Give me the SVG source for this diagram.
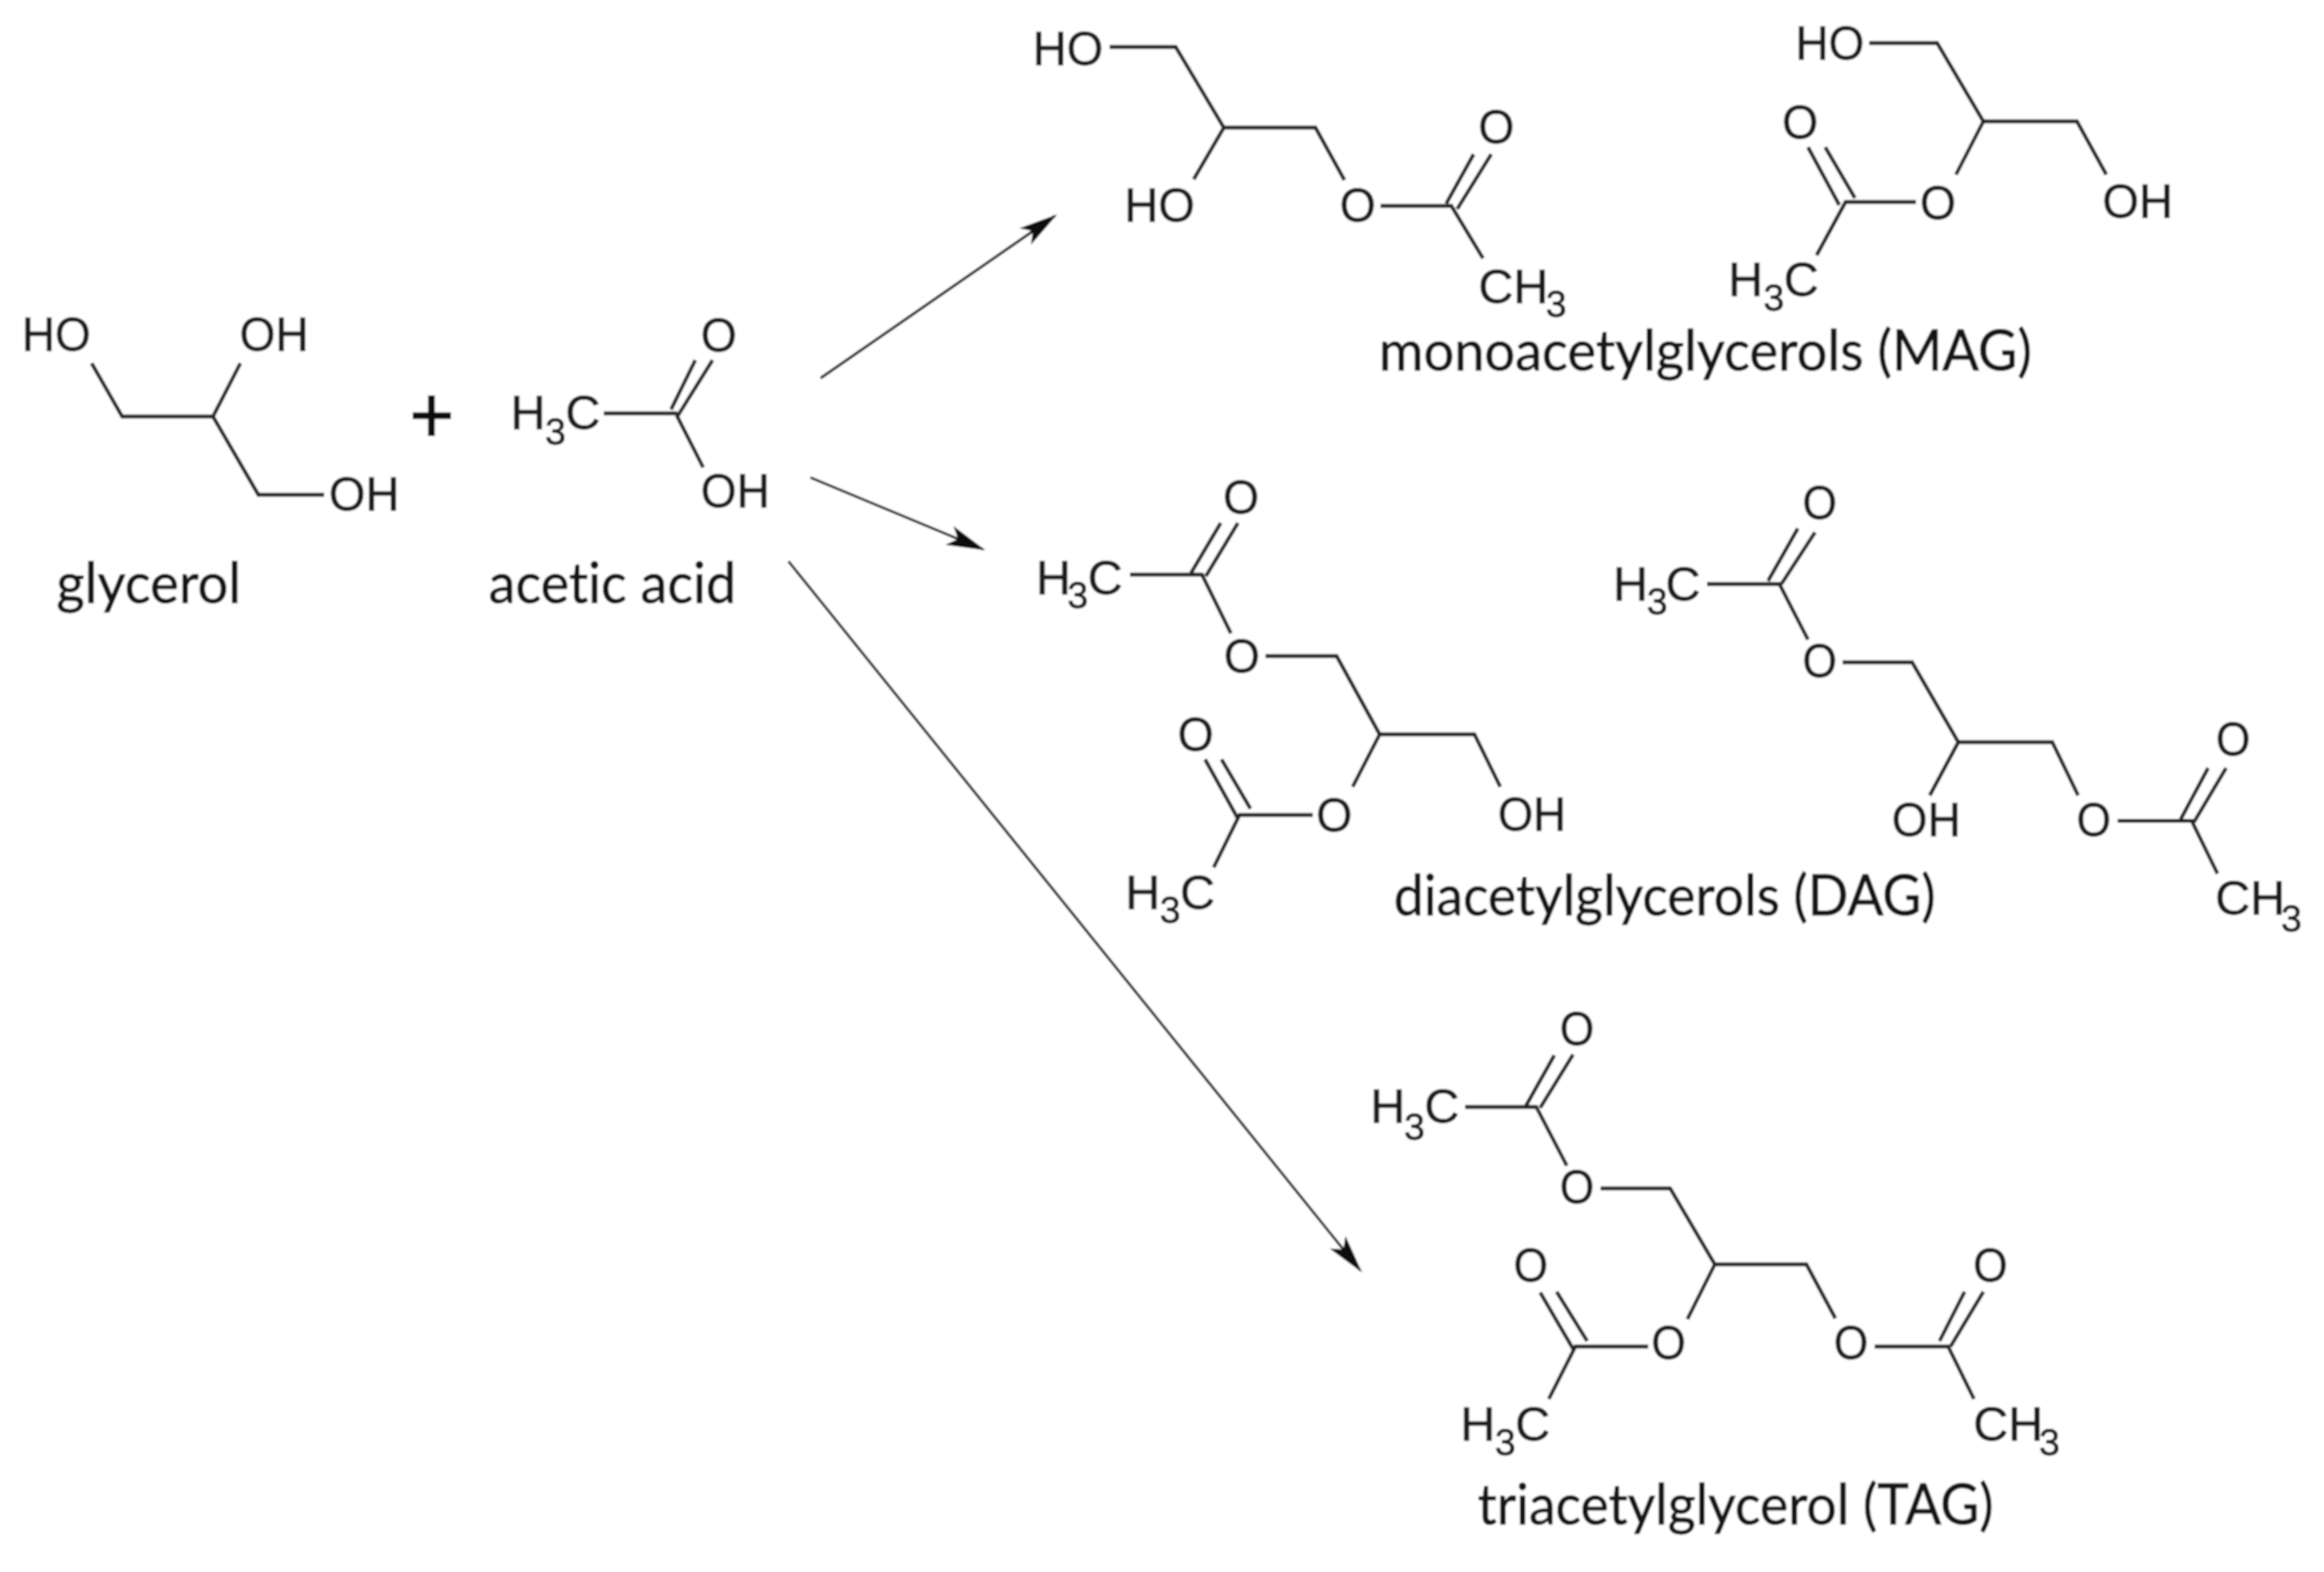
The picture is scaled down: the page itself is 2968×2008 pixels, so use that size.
<svg xmlns="http://www.w3.org/2000/svg" width="2968" height="2008" viewBox="0 0 2968 2008">
<style>
.b{fill:none;stroke:#222;stroke-width:4.8;stroke-linecap:butt;stroke-linejoin:miter}
.a{font-family:"Liberation Sans",Arial,sans-serif;font-size:62px;fill:#1c1c1c;stroke:#1c1c1c;stroke-width:.9}
.s{font-size:48px}
.n{font-family:Lato,"Open Sans",sans-serif;font-size:72px;fill:#161616;stroke:#161616;stroke-width:.9;font-variant-ligatures:none}
.r{fill:none;stroke:#111;stroke-width:3.4}
.p{fill:none;stroke:#0c0c0c;stroke-width:8.5}
</style>
<defs>
<marker id="head" markerUnits="userSpaceOnUse" markerWidth="50" markerHeight="26" viewBox="0 0 50 26" refX="46" refY="13" orient="auto">
<path d="M0,0 L50,13 L0,26 L12,13 Z" fill="#0c0c0c"/>
</marker>
<filter id="soft" x="0" y="0" width="100%" height="100%" filterUnits="objectBoundingBox"><feGaussianBlur stdDeviation="0.8"/></filter>
</defs>
<rect width="2968" height="2008" fill="#fff"/>
<g filter="url(#soft)">
<rect width="2968" height="2008" fill="#fff"/>
<g id="glycerol">
<path class="b" d="M117,464 L156,532 L272,532 L307,464 M272,532 L330,632 L414,632"/>
<text class="a" x="28" y="448" textLength="88" lengthAdjust="spacingAndGlyphs">HO</text>
<text class="a" x="306" y="448" textLength="88" lengthAdjust="spacingAndGlyphs">OH</text>
<text class="a" x="420" y="652" textLength="90" lengthAdjust="spacingAndGlyphs">OH</text>
<text class="n" x="72" y="770" textLength="236" lengthAdjust="spacingAndGlyphs">glycerol</text>
</g>
<g id="plus">
<path class="p" d="M527,531 H576 M551,505 V557"/>
</g>
<g id="acetic-acid">
<path class="b" d="M771,528 L865,528 M888,460 L857,523 M910,460 L865,532 L898,597"/>
<text class="a" x="895" y="449" textLength="46" lengthAdjust="spacingAndGlyphs">O</text>
<text class="a" x="652" y="548">H<tspan class="s" x="696" y="568">3</tspan><tspan x="722" y="548">C</tspan></text>
<text class="a" x="895" y="648" textLength="88" lengthAdjust="spacingAndGlyphs">OH</text>
<text class="n" x="624" y="770" textLength="316" lengthAdjust="spacingAndGlyphs">acetic acid</text>
</g>
<g id="mag-1">
<path class="b" d="M1417,60 L1501.5,60 L1563,163 L1680,163 L1717,230 M1563,163 L1524.5,229 M1763,263 L1853.5,263 L1894,330 M1882,197 L1847,260 M1904.5,197 L1861,267"/>
<text class="a" x="1319" y="83" textLength="90" lengthAdjust="spacingAndGlyphs">HO</text>
<text class="a" x="1436" y="283" textLength="90" lengthAdjust="spacingAndGlyphs">HO</text>
<text class="a" x="1711" y="283" textLength="46" lengthAdjust="spacingAndGlyphs">O</text>
<text class="a" x="1888" y="183" textLength="46" lengthAdjust="spacingAndGlyphs">O</text>
<text class="a" x="1888" y="387">CH<tspan class="s" x="1974" y="405">3</tspan></text>
</g>
<g id="mag-2">
<path class="b" d="M2387,55 L2474,55 L2533,155 L2652.5,155 L2690,223 M2533,155 L2498,223 M2447,258 L2357,258 L2320,326 M2309,188 L2349,262 M2331,188 L2369,253"/>
<text class="a" x="2293" y="76" textLength="88" lengthAdjust="spacingAndGlyphs">HO</text>
<text class="a" x="2685" y="278" textLength="90" lengthAdjust="spacingAndGlyphs">OH</text>
<text class="a" x="2452" y="280" textLength="46" lengthAdjust="spacingAndGlyphs">O</text>
<text class="a" x="2276" y="177" textLength="46" lengthAdjust="spacingAndGlyphs">O</text>
<text class="a" x="2207" y="378">H<tspan class="s" x="2252" y="397">3</tspan><tspan x="2278" y="378">C</tspan></text>
</g>
<text id="mag-label" class="n" x="1761" y="473" textLength="834" lengthAdjust="spacingAndGlyphs">monoacetylglycerols (MAG)</text>
<g id="dag-1">
<path class="b" d="M1559,668 L1521,732 M1581,668 L1540,736 M1443,734 L1535,734 L1572,809 M1616,838 L1707,838 L1762,938 L1883,938 L1916,1005 M1762,938 L1727.5,1005 M1676.5,1041 L1583,1041 L1550,1108 M1539,970 L1580,1044 M1560,970 L1597,1033"/>
<text class="a" x="1562" y="656" textLength="46" lengthAdjust="spacingAndGlyphs">O</text>
<text class="a" x="1323" y="759">H<tspan class="s" x="1363" y="777">3</tspan><tspan x="1389" y="759">C</tspan></text>
<text class="a" x="1563" y="859" textLength="46" lengthAdjust="spacingAndGlyphs">O</text>
<text class="a" x="1504" y="959" textLength="46" lengthAdjust="spacingAndGlyphs">O</text>
<text class="a" x="1681" y="1062" textLength="46" lengthAdjust="spacingAndGlyphs">O</text>
<text class="a" x="1913" y="1061" textLength="87" lengthAdjust="spacingAndGlyphs">OH</text>
<text class="a" x="1437" y="1161">H<tspan class="s" x="1481" y="1179">3</tspan><tspan x="1507" y="1161">C</tspan></text>
</g>
<g id="dag-2">
<path class="b" d="M2296,675 L2258,742 M2318,680 L2275,746 M2180,746 L2272.5,746 L2309,817 M2353,846 L2442,846 L2501,948 L2621,948 L2654,1016 M2501,948 L2464.5,1016 M2704.5,1048.5 L2799,1048.5 L2832,1116 M2820,981 L2785,1046.5 M2843,981 L2802,1050"/>
<text class="a" x="2302" y="663" textLength="44" lengthAdjust="spacingAndGlyphs">O</text>
<text class="a" x="2060" y="767">H<tspan class="s" x="2103" y="785">3</tspan><tspan x="2127" y="767">C</tspan></text>
<text class="a" x="2302" y="865" textLength="44" lengthAdjust="spacingAndGlyphs">O</text>
<text class="a" x="2416" y="1068" textLength="88" lengthAdjust="spacingAndGlyphs">OH</text>
<text class="a" x="2652" y="1068" textLength="44" lengthAdjust="spacingAndGlyphs">O</text>
<text class="a" x="2830" y="965" textLength="44" lengthAdjust="spacingAndGlyphs">O</text>
<text class="a" x="2829" y="1168">CH<tspan class="s" x="2913" y="1190">3</tspan></text>
</g>
<text id="dag-label" class="n" x="1780" y="1169" textLength="692" lengthAdjust="spacingAndGlyphs">diacetylglycerols (DAG)</text>
<g id="tag">
<path class="b" d="M1985,1348 L1948.5,1413 M2009,1347 L1967,1415 M1871,1414 L1962,1414 L2001,1489 M2044,1518 L2133,1518 L2190,1615 L2307,1615 L2344,1684 M2190,1615 L2155,1685 M1967,1651 L2009,1723 M1988,1650 L2027,1713 M2105,1720 L2012,1720 L1978,1787 M2394,1720 L2488,1720 L2521,1787 M2509,1650 L2477,1713 M2533,1650 L2491,1720"/>
<text class="a" x="1992" y="1335" textLength="44" lengthAdjust="spacingAndGlyphs">O</text>
<text class="a" x="1750" y="1434">H<tspan class="s" x="1793" y="1456">3</tspan><tspan x="1819" y="1434">C</tspan></text>
<text class="a" x="1992" y="1537" textLength="44" lengthAdjust="spacingAndGlyphs">O</text>
<text class="a" x="1933" y="1637" textLength="44" lengthAdjust="spacingAndGlyphs">O</text>
<text class="a" x="2109" y="1736" textLength="44" lengthAdjust="spacingAndGlyphs">O</text>
<text class="a" x="2342" y="1736" textLength="44" lengthAdjust="spacingAndGlyphs">O</text>
<text class="a" x="2520" y="1637" textLength="44" lengthAdjust="spacingAndGlyphs">O</text>
<text class="a" x="1865" y="1840">H<tspan class="s" x="1909" y="1859">3</tspan><tspan x="1935" y="1840">C</tspan></text>
<text class="a" x="2520" y="1840">CH<tspan class="s" x="2604" y="1859">3</tspan></text>
</g>
<text id="tag-label" class="n" x="1887" y="1947" textLength="659" lengthAdjust="spacingAndGlyphs">triacetylglycerol (TAG)</text>
<g id="connectors">
<line class="r" x1="1048" y1="483" x2="1347" y2="276" marker-end="url(#head)"/>
<line class="r" x1="1035" y1="610" x2="1255" y2="701.5" marker-end="url(#head)"/>
<line class="r" x1="1007" y1="717" x2="1737" y2="1622.5" marker-end="url(#head)"/>
</g>
</g>
</svg>
